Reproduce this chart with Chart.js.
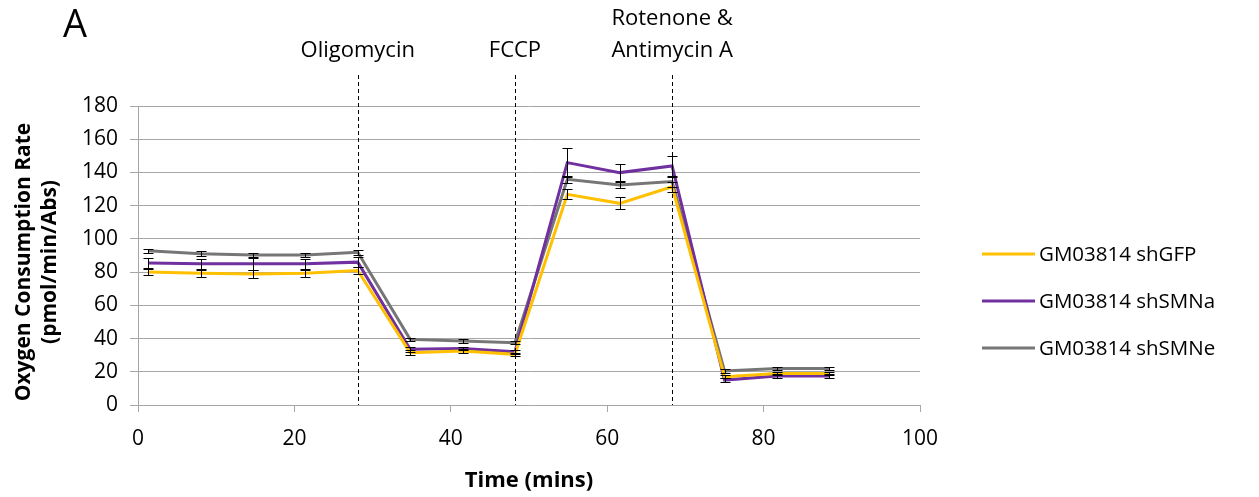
<!DOCTYPE html>
<html>
<head>
<meta charset="utf-8">
<script src="https://cdn.jsdelivr.net/npm/chart.js@4/dist/chart.umd.min.js"></script>
<style>
html,body{margin:0;padding:0;background:#fff;}
#wrap{width:1259px;height:497px;position:relative;}
</style>
</head>
<body>
<div id="wrap"><canvas id="c" width="1259" height="497"></canvas></div>
<script>
// ---- data ----
const times = [1.3, 8.0, 14.7, 21.4, 28.1, 34.8, 41.5, 48.2, 54.9, 61.6, 68.3, 75.0, 81.7, 88.4];
const seriesNames = ['GM03814 shGFP', 'GM03814 shSMNa', 'GM03814 shSMNe'];
const shGFP  = [80.0, 79.3, 78.8, 79.3, 81.0, 31.5, 32.5, 30.5, 126.8, 121.4, 131.4, 17.0, 19.0, 19.0];
const shSMNa = [85.5, 85.0, 85.0, 85.0, 86.0, 33.5, 34.0, 32.0, 145.9, 139.9, 143.9, 15.0, 17.5, 17.5];
const shSMNe = [92.8, 91.0, 90.3, 90.3, 92.0, 39.5, 38.5, 37.5, 135.9, 132.4, 134.5, 20.5, 22.0, 22.0];
const errGFP  = [2.0, 2.0, 2.5, 2.0, 2.0, 1.5, 1.0, 1.0, 3.0, 3.6, 3.0, 1.0, 1.0, 1.0];
const errSMNa = [3.0, 3.0, 3.5, 3.0, 3.0, 1.5, 1.0, 1.0, 8.6, 5.2, 6.0, 1.0, 1.0, 1.0];
const errSMNe = [1.0, 1.5, 1.5, 1.5, 1.5, 1.0, 1.0, 1.0, 2.0, 2.0, 3.0, 1.0, 1.0, 1.0];
const injectionTimes = [28.1, 48.2, 68.3];
const injectionLabels = [['Oligomycin'], ['FCCP'], ['Rotenone &', 'Antimycin A']];
const yTicks = [0, 20, 40, 60, 80, 100, 120, 140, 160, 180];
const xTicks = [0, 20, 40, 60, 80, 100];

const colors = ['#FFC000', '#7030A0', '#767676'];
const FONT = '"Open Sans", sans-serif';

const values = [shGFP, shSMNa, shSMNe];
const errs = [errGFP, errSMNa, errSMNe];

const datasets = values.map((vals, i) => ({
  label: seriesNames[i],
  data: times.map((t, j) => ({x: t, y: vals[j]})),
  errors: errs[i],
  borderColor: colors[i],
  backgroundColor: colors[i],
  borderWidth: 3,
  pointRadius: 0,
  tension: 0,
  fill: false
}));

const decor = {
  id: 'decor',
  afterDatasetsDraw(chart) {
    const ctx = chart.ctx;
    const xs = chart.scales.x, ys = chart.scales.y;
    const area = chart.chartArea;
    ctx.save();
    // error bars
    ctx.strokeStyle = '#000';
    ctx.lineWidth = 1;
    chart.data.datasets.forEach(ds => {
      ds.data.forEach((p, j) => {
        const e = ds.errors[j];
        const px = Math.round(xs.getPixelForValue(p.x)) + 0.5;
        const yt = Math.round(ys.getPixelForValue(p.y + e)) + 0.5;
        const yb = Math.round(ys.getPixelForValue(p.y - e)) + 0.5;
        ctx.beginPath();
        ctx.moveTo(px, yt); ctx.lineTo(px, yb);
        ctx.moveTo(px - 5, yt); ctx.lineTo(px + 5, yt);
        ctx.moveTo(px - 5, yb); ctx.lineTo(px + 5, yb);
        ctx.stroke();
      });
    });
    // injection dashed lines
    ctx.setLineDash([4, 3]);
    ctx.strokeStyle = '#000';
    injectionTimes.forEach(t => {
      const px = Math.round(xs.getPixelForValue(t)) + 0.5;
      ctx.beginPath();
      ctx.moveTo(px, 75);
      ctx.lineTo(px, area.bottom);
      ctx.stroke();
    });
    ctx.setLineDash([]);
    // injection labels
    ctx.fillStyle = '#000';
    ctx.font = '22px ' + FONT;
    ctx.textAlign = 'center';
    ctx.textBaseline = 'middle';
    injectionTimes.forEach((t, i) => {
      const px = xs.getPixelForValue(t);
      const lines = injectionLabels[i];
      lines.forEach((ln, k) => {
        const y = 51 - (lines.length - 1 - k) * 32;
        ctx.fillText(ln, px, y);
      });
    });
    // panel letter
    ctx.font = '38px ' + FONT;
    ctx.textAlign = 'left';
    ctx.fillText('A', 63, 26);
    // x title
    ctx.font = 'bold 22px ' + FONT;
    ctx.textAlign = 'center';
    ctx.fillText('Time (mins)', (area.left + area.right) / 2, 481);
    // y title
    ctx.save();
    ctx.translate(24, 262);
    ctx.rotate(-Math.PI / 2);
    ctx.font = 'bold 21px ' + FONT;
    ctx.fillText('Oxygen Consumption Rate', 0, 0);
    ctx.fillText('(pmol/min/Abs)', 0, 26);
    ctx.restore();
    // legend
    const ly = [254, 301, 348];
    chart.data.datasets.forEach((ds, i) => {
      ctx.strokeStyle = ds.borderColor;
      ctx.lineWidth = 3;
      ctx.beginPath();
      ctx.moveTo(982, ly[i]); ctx.lineTo(1035, ly[i]);
      ctx.stroke();
      ctx.fillStyle = '#000';
      ctx.font = '20.5px ' + FONT;
      ctx.textAlign = 'left';
      ctx.fillText(ds.label, 1039, ly[i] + 1);
    });
    ctx.restore();
  }
};

new Chart(document.getElementById('c'), {
  type: 'line',
  data: {datasets},
  options: {
    responsive: false,
    animation: false,
    layout: {padding: {left: 0, top: 106, right: 339, bottom: 0}},
    plugins: {legend: {display: false}, tooltip: {enabled: false}},
    scales: {
      x: {
        type: 'linear', min: 0, max: 100,
        afterBuildTicks: s => { s.ticks = xTicks.map(v => ({value: v})); },
        afterFit: s => { s.height = 92; },
        grid: {display: true, drawOnChartArea: false, drawTicks: true, tickLength: 7, color: '#A6A6A6'},
        border: {display: true, color: '#A6A6A6', width: 1},
        ticks: {color: '#000', font: {family: FONT, size: 21}, padding: 14, maxRotation: 0}
      },
      y: {
        min: 0, max: 180,
        afterBuildTicks: s => { s.ticks = yTicks.map(v => ({value: v})); },
        afterFit: s => { s.width = 138; },
        grid: {display: true, drawTicks: true, tickLength: 8, color: '#A6A6A6'},
        border: {display: true, color: '#A6A6A6', width: 1},
        ticks: {color: '#000', font: {family: FONT, size: 21}, padding: 12}
      }
    }
  },
  plugins: [decor]
});
</script>
</body>
</html>
